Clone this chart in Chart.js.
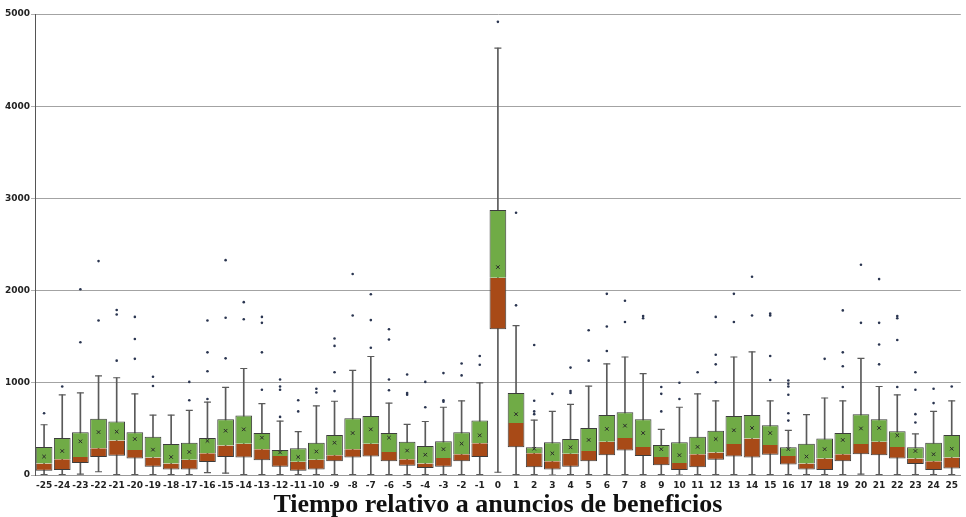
<!DOCTYPE html>
<html>
<head>
<meta charset="utf-8">
<script src="https://cdn.jsdelivr.net/npm/chart.js@4.4.1/dist/chart.umd.min.js"></script>
<style>
  html, body { margin: 0; padding: 0; background: #fff; }
  #wrap { width: 966px; height: 517px; position: relative; }
</style>
</head>
<body>
<div id="wrap"><canvas id="boxChart"></canvas></div>
<script>
// Categories: days relative to the earnings announcement
const labels = ['-25','-24','-23','-22','-21','-20','-19','-18','-17','-16','-15','-14','-13','-12','-11','-10',
  '-9','-8','-7','-6','-5','-4','-3','-2','-1','0','1','2','3','4','5','6','7','8','9','10',
  '11','12','13','14','15','16','17','18','19','20','21','22','23','24','25'];

// Box statistics
const q1 = [45,55,130,195,210,180,90,60,60,140,195,190,160,90,45,60,
  150,190,200,150,100,75,90,150,195,1580,300,85,60,90,150,215,265,205,105,55,
  85,165,200,190,220,115,60,55,150,225,215,180,120,55,70];
const median = [125,170,195,290,375,270,190,125,165,235,320,340,280,205,145,165,
  215,280,340,250,170,125,185,225,345,2140,565,235,150,230,260,360,400,305,195,130,
  225,245,335,395,325,205,125,180,225,335,360,305,180,150,190];
const q3 = [305,400,465,610,580,465,415,335,350,400,605,645,455,270,290,350,
  435,615,640,455,360,315,365,465,590,2875,890,300,355,390,510,650,680,605,325,355,
  415,480,640,650,540,300,340,395,455,660,605,475,300,350,435];
const mean = [200,260,365,465,470,390,275,195,250,370,480,495,405,245,195,255,
  350,455,495,405,265,220,280,340,430,2255,660,285,235,300,380,500,535,455,280,215,
  305,390,485,510,455,280,200,280,380,505,510,430,260,225,285];
const whiskerLow = [5,5,10,35,5,5,5,5,5,25,20,5,5,5,5,5,
  5,5,5,5,5,5,5,5,5,30,5,5,0,5,5,5,5,5,5,0,
  5,5,5,5,5,5,5,5,5,10,5,5,5,5,5];
const whiskerHigh = [545,870,890,1075,1055,880,650,650,700,790,950,1155,775,585,470,750,
  800,1135,1285,780,550,580,735,805,1000,4630,1620,595,690,765,965,1205,1280,1100,495,735,
  880,805,1280,1335,805,485,655,835,805,1265,960,870,445,690,805];
const outliers = [[670],[960],[1440,2015],[1675,2320],[1240,1740,1790],[1260,1475,1715],[965,1065],[],
  [810,1010],[825,1125,1330,1675],[1265,1705,2330],[1690,1875],[925,1330,1650,1715],[630,925,960,1035],
  [690,810],[895,935],[910,1115,1400,1480],[1730,2180],[1380,1680,1960],[920,1035,1470,1580],
  [870,890,1090],[735,1010],[795,810,1105],[1080,1210],[1195,1290],[4915],[1840,2845],
  [660,690,805,1410],[880],[890,910,1165],[1240,1570],[1345,1610,1965],[1660,1890],[1700,1725],
  [690,880,955],[825,1000],[1115],[1005,1200,1305,1715],[1660,1965],[1730,2150],[1030,1290,1730,1750],
  [590,670,870,960,990,1025],[],[1260],[955,1180,1330,1785],[1650,2280],[1200,1415,1650,2125],
  [955,1465,1700,1725],[570,660,925,1115],[780,935],[960]];

const yTicks = [0, 1000, 2000, 3000, 4000, 5000];

const GREEN = '#70AB46';
const BROWN = '#A84A17';
const EDGE = '#3c3c3c';
const WHISKER = '#5a5a5a';

const outlierPoints = [];
outliers.forEach((vals, i) => {
    vals.forEach(v => outlierPoints.push({ x: labels[i], y: v }));
});

const tickFont = { family: 'DejaVu Sans', size: 9, weight: 'bold' };

new Chart(document.getElementById('boxChart'), {
    type: 'bar',
    data: {
        labels: labels,
        datasets: [
            {
                label: 'whisker',
                data: labels.map((_, i) => [whiskerLow[i], whiskerHigh[i]]),
                backgroundColor: WHISKER,
                barThickness: 1,
                grouped: false,
                order: 5
            },
            {
                label: 'Q1-median',
                data: labels.map((_, i) => [q1[i], median[i]]),
                backgroundColor: BROWN,
                borderColor: EDGE,
                borderWidth: 1,
                borderSkipped: 'top',
                grouped: false,
                categoryPercentage: 1,
                barPercentage: 0.92,
                order: 4
            },
            {
                label: 'median-Q3',
                data: labels.map((_, i) => [median[i], q3[i]]),
                backgroundColor: GREEN,
                borderColor: EDGE,
                borderWidth: 1,
                borderSkipped: 'bottom',
                grouped: false,
                categoryPercentage: 1,
                barPercentage: 0.92,
                order: 3
            },
            {
                type: 'line',
                label: 'caps high',
                data: whiskerHigh,
                showLine: false,
                pointStyle: 'line',
                pointRadius: 3.5,
                borderColor: WHISKER,
                borderWidth: 1.2,
                order: 2
            },
            {
                type: 'line',
                label: 'caps low',
                data: whiskerLow,
                showLine: false,
                pointStyle: 'line',
                pointRadius: 3.5,
                borderColor: WHISKER,
                borderWidth: 1.2,
                order: 2
            },
            {
                type: 'line',
                label: 'mean',
                data: mean,
                showLine: false,
                pointStyle: 'crossRot',
                pointRadius: 2.5,
                borderColor: '#2b2b2b',
                borderWidth: 1,
                order: 1
            },
            {
                type: 'line',
                label: 'outliers',
                data: outlierPoints,
                showLine: false,
                pointStyle: 'circle',
                pointRadius: 1.3,
                backgroundColor: '#2a3550',
                borderWidth: 0,
                order: 0
            }
        ]
    },
    options: {
        responsive: true,
        maintainAspectRatio: false,
        animation: false,
        events: [],
        layout: { padding: { top: 14, right: 0, bottom: 0, left: 0 } },
        plugins: {
            legend: { display: false },
            tooltip: { enabled: false }
        },
        scales: {
            x: {
                offset: true,
                grid: { display: false, drawTicks: false },
                border: { display: true, color: '#9a9a9a' },
                ticks: {
                    color: '#222',
                    font: tickFont,
                    padding: 5,
                    maxRotation: 0,
                    autoSkip: false
                },
                title: {
                    display: true,
                    text: 'Tiempo relativo a anuncios de beneficios',
                    color: '#111',
                    font: { family: 'Liberation Serif', size: 26, weight: 'bold', lineHeight: 0.9 },
                    padding: 0
                },
                afterFit: (axis) => { axis.height = 42; }
            },
            y: {
                min: 0,
                max: 5000,
                afterBuildTicks: (axis) => { axis.ticks = yTicks.map(v => ({ value: v })); },
                grid: {
                    color: '#a3a3a3',
                    lineWidth: 1,
                    tickLength: 4,
                    tickColor: '#b0b0b0'
                },
                border: { display: true, color: '#555', width: 1 },
                ticks: {
                    color: '#222',
                    font: tickFont,
                    padding: 1,
                    callback: (v) => String(v)
                },
                afterFit: (axis) => { axis.width = 35; }
            }
        }
    }
});
</script>
</body>
</html>
